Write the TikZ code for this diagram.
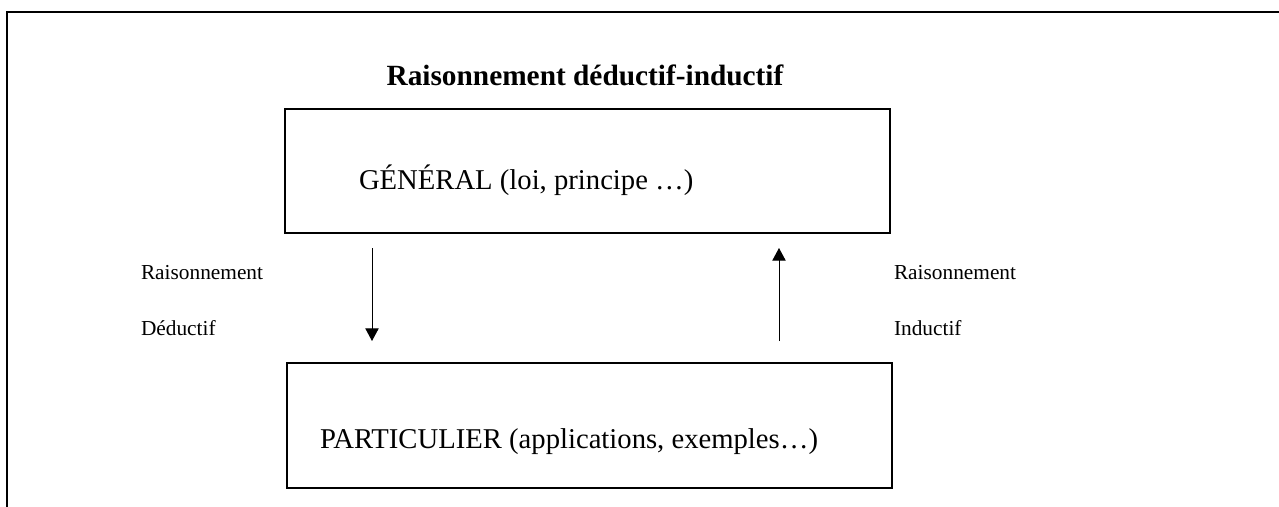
\documentclass[tikz,border=0pt]{standalone}
\usepackage{fontspec}
\setmainfont{Liberation Serif}
\usetikzlibrary{arrows.meta}
\begin{document}
\begin{tikzpicture}[x=0.75pt,y=-0.75pt,line width=1.5pt,
        every node/.style={font=\fontsize{16}{19}\selectfont,inner sep=0pt},
        big/.style={font=\fontsize{21.5}{25}\selectfont},
        box/.style={draw,line width=1.5pt,minimum width=453.75pt,minimum height=93pt},
        lbl/.style={anchor=base west},
        arr/.style={line width=0.75pt,-{Triangle[length=9.5pt,width=10pt]}}]
        \useasboundingbox (0,0) rectangle (1279,507);
        \draw (7,507) -- (7,12) -- (1279,12);
        \node[anchor=base,font=\fontsize{22}{26}\selectfont\bfseries] (titre) at (585,85) {Raisonnement déductif-inductif};
        \node[box] (gen) at (587.5,171) {};
        \node[box,minimum height=94pt] (part) at (589,425.5) {};
        \node[lbl,big] (gentxt) at (358,189) {GÉNÉRAL (loi, principe …)};
        \node[lbl,big] (parttxt) at (319,448) {PARTICULIER (applications, exemples…)};
        \node[lbl] (ded1) at (140,279) {Raisonnement};
        \node[lbl] (ded2) at (140,335) {Déductif};
        \node[lbl] (ind1) at (893,279) {Raisonnement};
        \node[lbl] (ind2) at (893,335) {Inductif};
        \coordinate (d1) at (372,248);
        \coordinate (d2) at (372,341);
        \coordinate (u1) at (779,341);
        \coordinate (u2) at (779,248);
        \draw[arr] (d1) -- (d2);
        \draw[arr] (u1) -- (u2);
\end{tikzpicture}
\end{document}
